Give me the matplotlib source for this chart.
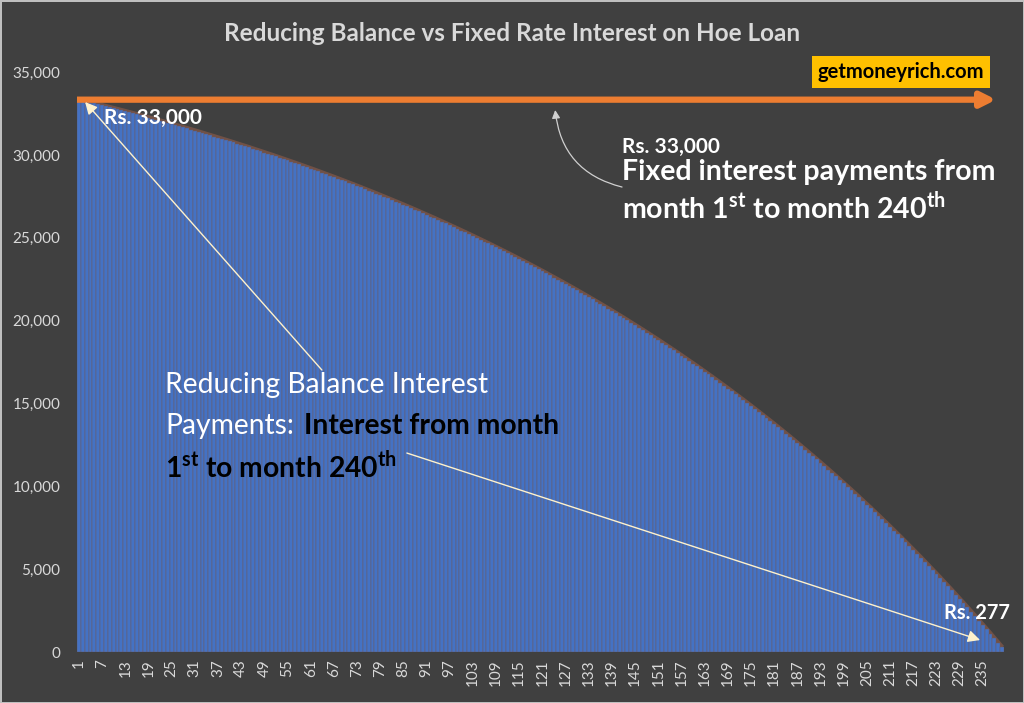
import numpy as np
from matplotlib import pyplot as plt
from matplotlib.ticker import FuncFormatter

plt.rcParams['font.family'] = ['Lato', 'DejaVu Sans']
plt.rcParams['mathtext.fontset'] = 'custom'
plt.rcParams['mathtext.rm'] = 'Lato'
plt.rcParams['mathtext.bf'] = 'Lato:bold'

# monthly interest on a reducing balance (Rs.), month 1 .. 240
interest = [
    33333, 33277, 33220, 33162, 33105, 33047, 32988, 32929, 32870, 32810,
    32750, 32690, 32629, 32567, 32506, 32444, 32381, 32318, 32255, 32191,
    32127, 32062, 31997, 31932, 31866, 31799, 31732, 31665, 31597, 31529,
    31461, 31392, 31322, 31252, 31182, 31111, 31039, 30968, 30895, 30822,
    30749, 30675, 30601, 30526, 30451, 30375, 30299, 30222, 30144, 30067,
    29988, 29909, 29830, 29750, 29669, 29588, 29507, 29425, 29342, 29259,
    29175, 29091, 29006, 28921, 28835, 28748, 28661, 28573, 28485, 28396,
    28306, 28216, 28125, 28034, 27942, 27850, 27757, 27663, 27568, 27473,
    27378, 27281, 27184, 27087, 26989, 26890, 26790, 26690, 26589, 26488,
    26385, 26282, 26179, 26075, 25970, 25864, 25757, 25650, 25543, 25434,
    25325, 25215, 25104, 24993, 24880, 24768, 24654, 24539, 24424, 24308,
    24191, 24074, 23956, 23836, 23717, 23596, 23474, 23352, 23229, 23105,
    22980, 22854, 22728, 22601, 22473, 22344, 22214, 22083, 21951, 21819,
    21686, 21551, 21416, 21280, 21143, 21005, 20867, 20727, 20586, 20445,
    20302, 20159, 20014, 19869, 19723, 19575, 19427, 19278, 19127, 18976,
    18824, 18670, 18516, 18361, 18204, 18047, 17888, 17729, 17568, 17407,
    17244, 17080, 16915, 16749, 16582, 16414, 16244, 16074, 15902, 15729,
    15555, 15380, 15204, 15026, 14848, 14668, 14487, 14305, 14121, 13936,
    13751, 13563, 13375, 13185, 12995, 12802, 12609, 12414, 12218, 12021,
    11822, 11622, 11421, 11218, 11014, 10809, 10602, 10394, 10184, 9973,
    9761, 9547, 9332, 9115, 8897, 8678, 8457, 8234, 8011, 7785,
    7558, 7330, 7100, 6868, 6635, 6401, 6165, 5927, 5688, 5447,
    5204, 4960, 4714, 4467, 4218, 3967, 3715, 3461, 3205, 2948,
    2689, 2428, 2165, 1901, 1634, 1367, 1097, 825, 552, 277,
]
months = list(range(1, len(interest) + 1))
fixed_interest = 33333
tick_months = list(range(1, 240, 6))

bg = '#404040'
grey = '#d9d9d9'
pale = '#fff2cc'

fig = plt.figure(figsize=(10.24, 7.03), dpi=100, facecolor=bg,
                 edgecolor='#bfbfbf', linewidth=2)
ax = fig.add_axes([0.0752, 0.0725, 0.9053, 0.825])
ax.set_facecolor(bg)

# soft brown rim along the bar tops
ax.plot(months, interest, color='#7a5548', lw=3.5, alpha=0.85, zorder=1,
        solid_capstyle='butt')
ax.bar(months, interest, width=1.0, color='#4472c4', edgecolor='#6d5a62',
       linewidth=0.35, zorder=2)

# fixed interest line with arrow head
ax.annotate('', xy=(months[-1] - 1.5, fixed_interest),
            xytext=(months[0] - 0.5, fixed_interest),
            arrowprops=dict(arrowstyle='-|>', color='#ed7d31', lw=4.5,
                            mutation_scale=22, shrinkA=0, shrinkB=0,
                            capstyle='butt'),
            zorder=5)

ax.set_xlim(0.5, 240.5)
ax.set_ylim(0, 35000)
ax.set_yticks(range(0, 35001, 5000))
ax.yaxis.set_major_formatter(FuncFormatter(lambda v, p: f'{int(v):,}'))
ax.set_xticks(tick_months)
ax.set_xticklabels([str(m) for m in tick_months], rotation=90)
ax.tick_params(axis='both', length=0, colors=grey, labelsize=11)
ax.tick_params(axis='y', pad=12)
ax.tick_params(axis='x', pad=5)
for s in ax.spines.values():
    s.set_visible(False)

fig.text(0.5, 0.953, 'Reducing Balance vs Fixed Rate Interest on Hoe Loan',
         ha='center', va='center', color=grey, fontsize=17.5, fontweight='bold')

fig.text(0.8799, 0.8976, 'getmoneyrich.com', ha='center', va='center',
         fontsize=14.5, fontweight='bold', color='black',
         bbox=dict(boxstyle='square,pad=0.3', fc='#ffc000', ec='none'))

# left top label and arrow
ax.text(7.5, 32250, 'Rs. 33,000', color='white', fontsize=15,
        fontweight='bold', va='center', zorder=7)
ax.annotate('', xy=(2.6, 33190), xytext=(63.9, 17018),
            arrowprops=dict(arrowstyle='-|>', color=pale, lw=1.0,
                            mutation_scale=18, shrinkA=0, shrinkB=0),
            zorder=6)

# fixed interest note
ax.text(141.5, 30500, 'Rs. 33,000', color='white', fontsize=15,
        fontweight='bold', va='center')
ax.text(141.5, 28950, 'Fixed interest payments from', color='white',
        fontsize=20.5, fontweight='bold', va='center')
ax.text(141.5, 26800, r'month 1$^{\mathbf{st}}$ to month 240$^{\mathbf{th}}$',
        color='white', fontsize=20.5, fontweight='bold', va='center')
ax.annotate('', xy=(124.3, 32708), xytext=(141.6, 28061),
            arrowprops=dict(arrowstyle='-|>', color='#d0d0d0', lw=0.9,
                            mutation_scale=12, shrinkA=0, shrinkB=0,
                            connectionstyle='arc3,rad=-0.35'),
            zorder=6)

# reducing balance note
ax.text(23.4, 16100, 'Reducing Balance Interest', color='white',
        fontsize=20.3, va='center', zorder=7)
ax.text(23.4, 13650, 'Payments:', color='white', fontsize=20.3,
        va='center', zorder=7)
ax.text(59.3, 13650, 'Interest from month', color='black', fontsize=20.3,
        fontweight='bold', va='center', zorder=7)
ax.text(23.4, 11200, r'1$^{\mathbf{st}}$ to month 240$^{\mathbf{th}}$',
        color='black', fontsize=20.3, fontweight='bold', va='center', zorder=7)
ax.annotate('', xy=(234.3, 724), xytext=(85.9, 12009),
            arrowprops=dict(arrowstyle='-|>', color=pale, lw=1.0,
                            mutation_scale=18, shrinkA=0, shrinkB=0),
            zorder=6)

ax.text(225, 2350, 'Rs. 277', color='white', fontsize=14.5,
        fontweight='bold', va='center', zorder=7)

fig.savefig('out.png', dpi=100, facecolor=bg, edgecolor='#bfbfbf')
